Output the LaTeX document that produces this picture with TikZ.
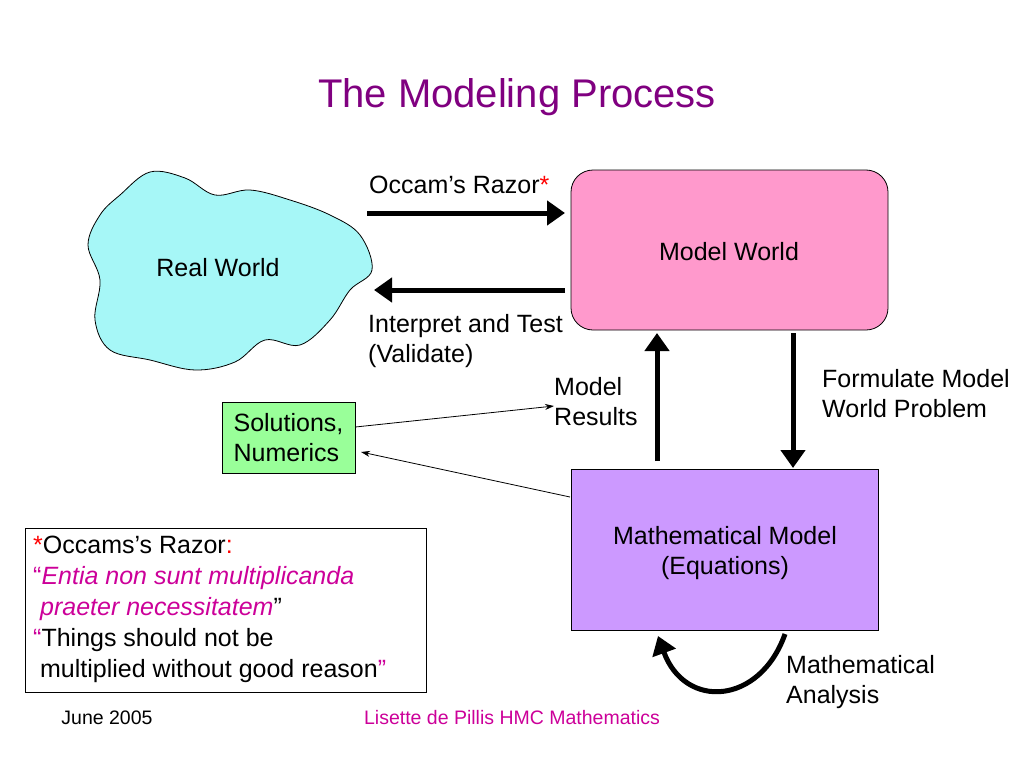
\documentclass[tikz,border=0pt]{standalone}
\usepackage{fontspec}
\setmainfont{Liberation Sans}
\usetikzlibrary{arrows.meta}
\definecolor{ttl}{RGB}{128,0,128}
\definecolor{mag}{RGB}{204,0,153}
\definecolor{cloud}{RGB}{166,247,247}
\definecolor{pinkb}{RGB}{255,153,204}
\definecolor{purpb}{RGB}{204,153,255}
\definecolor{greenb}{RGB}{153,255,153}
\begin{document}
\begin{tikzpicture}[x=1pt,y=-1pt,
  txt/.style={font=\fontsize{25}{30}\selectfont,align=left},
  big/.style={line width=5pt,-{Triangle[length=18pt,width=24pt]}},
  thin/.style={line width=0.8pt,-{Stealth[length=9pt,width=6pt]}}]
\useasboundingbox (0,0) rectangle (1024,768);
\node[ttl,font=\fontsize{40}{44}\selectfont] (title) at (517,97) {The Modeling Process};
% cloud
\draw[fill=cloud,line width=0.8pt] plot[smooth cycle,tension=0.6] coordinates{
 (120,195) (150,172) (185,178) (215,195) (250,190) (290,200) (330,215) (360,235) (372,270)
 (350,290) (330,320) (300,345) (265,340) (235,362) (195,370) (150,360) (110,350) (95,320)
 (100,280) (88,245) (100,215)};
\node[txt] (rw) at (218,268) {Real World};
\node[draw,fill=pinkb,rounded corners=22pt,minimum width=317pt,minimum height=160pt,line width=0.8pt] (mw) at (729.5,250) {};
\node[txt] at (729,252) {Model World};
\node[draw,fill=purpb,minimum width=307pt,minimum height=161pt,line width=0.8pt] (mm) at (724.5,549.5) {};
\node[txt,align=center] at (725,553) {Mathematical Model\\(Equations)};
\node[draw,fill=greenb,minimum width=133pt,minimum height=71pt,inner sep=0pt,line width=0.8pt,txt] (sol) at (288.5,437.5) {Solutions,\\Numerics};
\coordinate (a1s) at (367,213); \coordinate (a1e) at (565,213);
\draw[big] (a1s) -- (a1e);
\node[txt,anchor=west,inner sep=0pt] (occ) at (369,185) {Occam’s Razor\textcolor{red}{*}};
\coordinate (a2s) at (565,290); \coordinate (a2e) at (374,290);
\draw[big] (a2s) -- (a2e);
\node[txt,anchor=north west,inner sep=0pt] (int) at (368,314) {Interpret and Test\\(Validate)};
\coordinate (u1) at (657,461); \coordinate (u2) at (657,333);
\draw[big] (u1) -- (u2);
\coordinate (d1) at (793,333); \coordinate (d2) at (793,468);
\draw[big] (d1) -- (d2);
\node[txt,anchor=north west,inner sep=0pt] (form) at (822,369) {Formulate Model\\World Problem};
\node[txt,anchor=north west,inner sep=0pt] (mr) at (554,377) {Model\\Results};
\draw[thin] (sol.east |- 0,427) -- (mr.west |- 0,406);
\coordinate (c1) at (570,497);
\draw[thin] (c1) -- (361,452);
\coordinate (cs) at (785,634); \coordinate (ce) at (658,636);
\draw[big] (cs) .. controls (760,705) and (685,710) .. (ce);
\node[txt,anchor=north west,inner sep=0pt] (ma) at (786,655) {Mathematical\\Analysis};
\node[draw,line width=0.8pt,minimum width=401pt,minimum height=164pt] (fn) at (225.5,610) {};
\node[txt,anchor=north west,inner sep=0pt,font=\fontsize{25}{31}\selectfont] at (33,536) {\textcolor{red}{*}Occams’s Razor\textcolor{red}{:}\\
\textcolor{mag}{“\textit{Entia non sunt multiplicanda}}\\
\textcolor{mag}{\ \textit{praeter necessitatem}}”\\
\textcolor{mag}{“}Things should not be\\
\ multiplied without good reason\textcolor{mag}{”}};
\node[font=\fontsize{19.5}{22}\selectfont] (date) at (107,718) {June 2005};
\node[font=\fontsize{19.5}{22}\selectfont,text=mag] (auth) at (512,718) {Lisette de Pillis HMC Mathematics};
\end{tikzpicture}
\end{document}
